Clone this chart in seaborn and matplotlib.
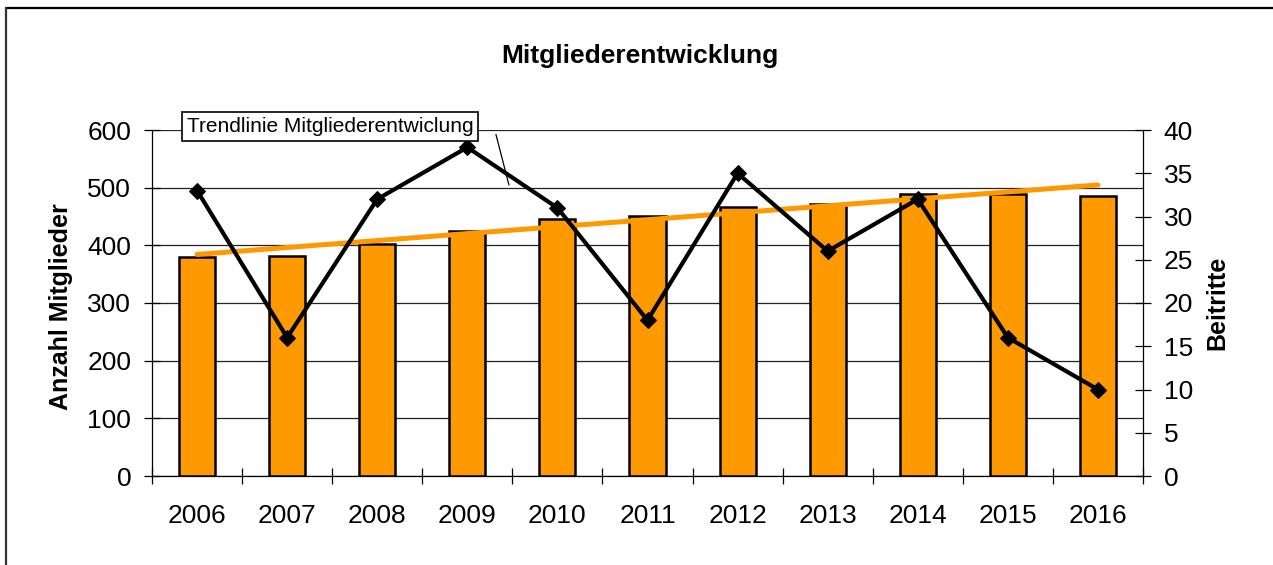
import matplotlib
matplotlib.use("Agg")
import matplotlib.pyplot as plt
import seaborn as sns
import numpy as np
from matplotlib.lines import Line2D

years = [2006, 2007, 2008, 2009, 2010, 2011, 2012, 2013, 2014, 2015, 2016]
mitglieder = [380, 382, 403, 425, 446, 451, 467, 472, 489, 489, 485]
beitritte = [33, 16, 32, 38, 31, 18, 35, 26, 32, 16, 10]

orange = "#FF9900"

sns.set_theme(style="white")
plt.rcParams["font.family"] = ["Liberation Sans", "DejaVu Sans"]
plt.rcParams["text.color"] = "black"
plt.rcParams["axes.labelcolor"] = "black"
plt.rcParams["xtick.color"] = "black"
plt.rcParams["ytick.color"] = "black"

fig = plt.figure(figsize=(12.73, 5.65), dpi=100)
W, H = 1273, 565
ax = fig.add_axes([152 / W, 1 - 476 / H, (1143 - 152) / W, (476 - 130) / H])

pos = np.arange(len(years))

sns.barplot(x=years, y=mitglieder, color=orange, saturation=1, width=0.4,
            edgecolor="black", linewidth=1.8, ax=ax)
sns.regplot(x=pos, y=mitglieder, ax=ax, scatter=False, ci=None, truncate=True,
            color=orange, line_kws={"lw": 3.6, "solid_capstyle": "round"})

ax.set_xlim(-0.5, len(years) - 0.5)
ax.set_ylim(0, 600)
ax.set_yticks(np.arange(0, 601, 100))
ax.set_axisbelow(True)
ax.yaxis.grid(True, color="#222222", lw=0.9)
ax.xaxis.grid(False)
ax.set_xlabel("")
ax.set_ylabel("Anzahl Mitglieder", fontsize=18, fontweight="bold")
ax.yaxis.set_label_coords(-0.08, 0.49)

ax.set_xticks(np.arange(-0.5, len(years), 1), minor=True)
ax.tick_params(axis="x", which="both", bottom=True)
ax.tick_params(axis="x", which="major", length=0, pad=20, labelsize=19)
ax.tick_params(axis="x", which="minor", direction="inout", length=12, width=0.9)
ax.tick_params(axis="y", direction="inout", length=12, width=0.9, pad=9, labelsize=19, left=True)

for s in ["top", "right"]:
    ax.spines[s].set_visible(False)
for s in ["left", "bottom"]:
    ax.spines[s].set_color("black")
    ax.spines[s].set_linewidth(0.9)

ax2 = ax.twinx()
sns.lineplot(x=pos, y=beitritte, ax=ax2, color="black", lw=3, marker="D",
             markersize=8, markeredgecolor="black")
ax2.set_ylim(0, 40)
ax2.set_yticks(np.arange(0, 41, 5))
ax2.set_ylabel("Beitritte", fontsize=18, fontweight="bold")
ax2.yaxis.set_label_coords(1.063, 0.5)
ax2.tick_params(axis="y", direction="inout", length=12, width=0.9, pad=9, labelsize=19, right=True)
for s in ["top", "left", "bottom"]:
    ax2.spines[s].set_visible(False)
ax2.spines["right"].set_color("black")
ax2.spines["right"].set_linewidth(0.9)
ax2.set_xlim(-0.5, len(years) - 0.5)

# callout for the trend line
ax.annotate("", xy=(3.47, 500), xytext=(3.31, 597),
            arrowprops=dict(arrowstyle="-", lw=0.9, color="black"),
            annotation_clip=False)
fig.text(187 / W, 1 - 132 / H, "Trendlinie Mitgliederentwiclung", fontsize=15,
         va="baseline", ha="left",
         bbox=dict(boxstyle="square,pad=0.22", fc="white", ec="black", lw=1.2))

fig.text(640 / W, 1 - 63 / H, "Mitgliederentwicklung", fontsize=19,
         fontweight="bold", ha="center", va="baseline")

# outer chart frame
fig.add_artist(Line2D([6 / W, 1], [1 - 8 / H, 1 - 8 / H], color="black", lw=1.6))
fig.add_artist(Line2D([6 / W, 6 / W], [0, 1 - 8 / H], color="#333333", lw=1.6))

fig.savefig("out.png", dpi=100)
